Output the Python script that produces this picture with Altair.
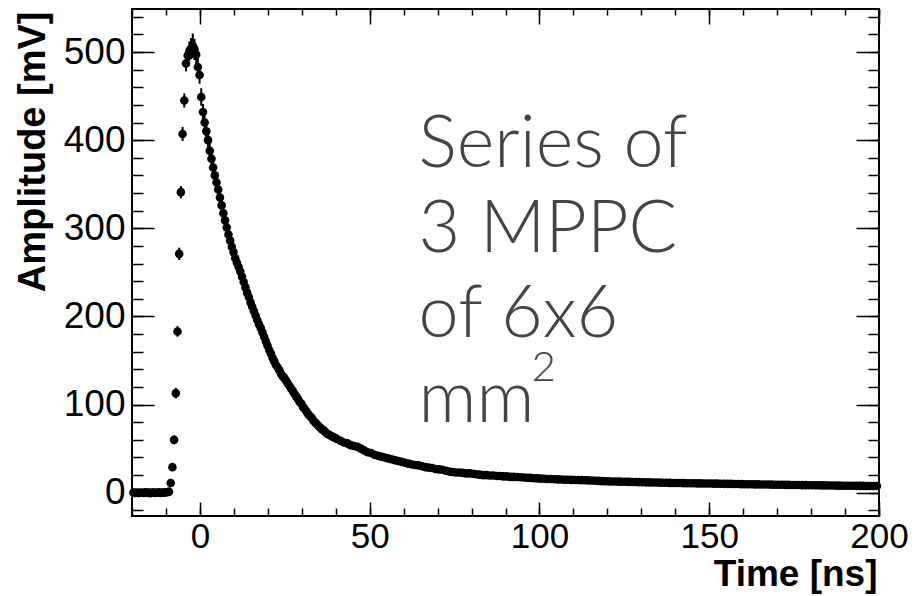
import altair as alt
import numpy as np
import pandas as pd

# ---- digitised waveform -------------------------------------------------
# fine section: sampled every 0.5 ns starting at -19.6 ns
t_fine_start, t_fine_step = -19.6, 0.5
amp_fine = [
    # baseline
    0.3, -0.2, 0.1, -0.4, 0.2, 0.0, -0.3, 0.4, -0.1, 0.2, -0.5,
    0.1, 0.3, -0.2, 0.0, 0.4, -0.3, 0.2, -0.1, 0.5, 0.6, 1.2,
    # rise and peak
    11, 29, 60, 113, 183, 271, 341, 407, 445, 487, 496, 501, 504, 507,
    503, 497, 483, 474,
    # fast decay
    449, 432, 420, 410, 400, 388, 379, 369, 360, 352,
    344, 335, 326, 317, 309, 301, 293, 286, 279, 273,
    266, 261, 256, 251, 245, 239, 233, 227, 222, 216,
    211, 206, 201, 196, 191, 187, 182, 177, 172, 167,
    162, 158, 153, 149, 145, 142, 139, 135, 132, 130,
    127, 124, 121, 118, 115, 112, 109, 106, 103, 101,
    97, 95, 92, 89, 87, 85, 82, 80, 78, 76,
    74, 72, 71, 69, 67, 66, 65, 64, 63, 62,
]
# errors of the fine section starting at its 23rd sample (-8.6 ns)
err_start_index = 22
err_fine = [
    3, 4, 5, 6, 6, 7, 7, 8, 8, 9, 10, 11, 12, 14, 12, 11, 10, 10,
    10, 9, 9, 9, 8, 8, 8, 8, 7, 7, 7, 7, 7, 6, 6, 6, 6, 6, 6, 6,
]
# coarse section: sampled every 1 ns starting at 40.4 ns
t_coarse_start, t_coarse_step = 40.4, 1.0
amp_coarse = [
    61, 59, 57, 56, 54, 53, 52, 50, 48, 46,
    45, 43, 42, 41, 40, 39, 38, 37, 36, 35,
    34, 33, 32, 31.5, 31, 30, 29, 28.5, 28, 27,
    26.5, 26, 25, 24, 23.5, 23, 23, 22.5, 22, 22,
    21.5, 21, 20.5, 20, 20, 19.5, 19.5, 19, 19, 18.5,
    18.5, 18, 18, 17.8, 17.5, 17.2, 17, 16.8, 16.5, 16.3,
    16, 15.8, 15.6, 15.5, 15.3, 15.1, 15, 14.8, 14.7, 14.6,
    14.5, 14.4, 14.3, 14.2, 14, 13.8, 13.6, 13.4, 13.2, 13,
    12.9, 12.8, 12.7, 12.6, 12.5, 12.4, 12.3, 12.2, 12.1, 12,
    11.9, 11.8, 11.7, 11.6, 11.6, 11.5, 11.4, 11.3, 11.2, 11.1,
    11, 11, 10.9, 10.8, 10.8, 10.7, 10.6, 10.6, 10.5, 10.5,
    10.4, 10.3, 10.3, 10.2, 10.1, 10.1, 10, 9.9, 9.9, 9.8,
    9.7, 9.7, 9.6, 9.5, 9.5, 9.4, 9.3, 9.3, 9.2, 9.1,
    9.1, 9, 8.9, 8.9, 8.8, 8.8, 8.7, 8.6, 8.6, 8.5,
    8.5, 8.4, 8.4, 8.3, 8.3, 8.2, 8.2, 8.1, 8.1, 8,
    8, 7.9, 7.9, 7.8, 7.8, 7.8, 7.7, 7.7, 7.7, 7.6,
]

x_major = [0, 50, 100, 150, 200]
x_minor = list(range(-20, 201, 10))
y_major = [0, 100, 200, 300, 400, 500]
y_minor = list(range(-20, 541, 20))

annotation_lines = ["Series of", "3 MPPC", "of 6x6", "mm"]
annotation_sup = "2"
x_title = "Time [ns]"
y_title = "Amplitude [mV]"

# ---- table ----------------------------------------------------------------
t_fine = t_fine_start + t_fine_step * np.arange(len(amp_fine))
t_coarse = t_coarse_start + t_coarse_step * np.arange(len(amp_coarse))
err_all = [0.0] * len(amp_fine)
for i, e in enumerate(err_fine):
    err_all[err_start_index + i] = e
err_all += [0.0] * len(amp_coarse)

df = pd.DataFrame({
    "t": np.concatenate([t_fine, t_coarse]),
    "amp": list(amp_fine) + list(amp_coarse),
    "err": err_all,
})
df["lo"] = df["amp"] - df["err"]
df["hi"] = df["amp"] + df["err"]
df_err = df[df["err"] > 0]

xs = alt.Scale(domain=[-20, 200], nice=False, zero=False)
ys = alt.Scale(domain=[-26.4, 548.8], nice=False, zero=False)

FONT = "Liberation Sans"
common = dict(domain=False, grid=False, tickColor="black", tickWidth=1.5,
              labelFont=FONT, labelColor="black",
              labelFlush=False, labelOverlap=False)

ax_bottom_major = alt.Axis(orient="bottom", values=x_major, offset=-14, tickSize=14,
                           labelPadding=3, format="d", labelFontSize=35,
                           title=x_title, titleX=745, titleY=83, titleAlign="right",
                           titleBaseline="alphabetic", titleAngle=0,
                           titleFont=FONT, titleFontSize=37, titleFontWeight="bold",
                           titleColor="black", **common)
ax_bottom_minor = alt.Axis(orient="bottom", values=x_minor, offset=-8, tickSize=8,
                           labels=False, title=None, **common)
ax_top_major = alt.Axis(orient="top", values=x_major, offset=-15, tickSize=15,
                        labels=False, title=None, **common)
ax_top_minor = alt.Axis(orient="top", values=x_minor, offset=-6, tickSize=6,
                        labels=False, title=None, **common)
ax_left_major = alt.Axis(orient="left", values=y_major, offset=-22, tickSize=22,
                         labelPadding=7, format="d", labelFontSize=37,
                         title=y_title, titleX=-110, titleY=2, titleAngle=270,
                         titleAlign="right", titleBaseline="alphabetic",
                         titleFont=FONT, titleFontSize=38, titleFontWeight="bold",
                         titleColor="black", **common)
ax_left_minor = alt.Axis(orient="left", values=y_minor, offset=-11, tickSize=11,
                         labels=False, title=None, **common)
ax_right_major = alt.Axis(orient="right", values=y_major, offset=-23, tickSize=23,
                          labels=False, title=None, **common)
ax_right_minor = alt.Axis(orient="right", values=y_minor, offset=-11, tickSize=11,
                          labels=False, title=None, **common)

base = alt.Chart(df)

points = base.mark_circle(size=74, color="black", opacity=1).encode(
    x=alt.X("t:Q", scale=xs, axis=ax_bottom_major),
    y=alt.Y("amp:Q", scale=ys, axis=ax_left_major),
)
errbars = alt.Chart(df_err).mark_rule(color="black", strokeWidth=2).encode(
    x=alt.X("t:Q", scale=xs, axis=ax_bottom_minor),
    y=alt.Y("lo:Q", scale=ys, axis=ax_left_minor),
    y2="hi:Q",
)
ghost1 = base.mark_circle(opacity=0).encode(
    x=alt.X("t:Q", scale=xs, axis=ax_top_major),
    y=alt.Y("amp:Q", scale=ys, axis=ax_right_major),
)
ghost2 = base.mark_circle(opacity=0).encode(
    x=alt.X("t:Q", scale=xs, axis=ax_top_minor),
    y=alt.Y("amp:Q", scale=ys, axis=ax_right_minor),
)
one_row = pd.DataFrame({"a": [0]})
label = alt.Chart(one_row).mark_text(
    text=annotation_lines, align="left", baseline="alphabetic",
    font="Lato", fontWeight=300, fontSize=72, lineHeight=85, color="#444444",
).encode(
    x=alt.X(datum=64.4, scale=xs, axis=None),
    y=alt.Y(datum=370, scale=ys, axis=None),
)
sup = alt.Chart(one_row).mark_text(
    text=annotation_sup, align="left", baseline="alphabetic",
    font="Lato", fontWeight=300, fontSize=42, color="#444444",
    dx=113, dy=214,
).encode(
    x=alt.X(datum=64.4, scale=xs, axis=None),
    y=alt.Y(datum=370, scale=ys, axis=None),
)

chart = alt.layer(errbars, points, ghost1, ghost2, label, sup).resolve_axis(
    x="independent", y="independent"
).properties(
    width=747, height=507,
    autosize=alt.AutoSizeParams(type="none"),
    padding={"left": 132, "top": 9, "right": 43, "bottom": 80},
).configure_view(stroke="black", strokeWidth=2)

chart.save("out.html", embed_options={"renderer": "svg", "actions": False})
